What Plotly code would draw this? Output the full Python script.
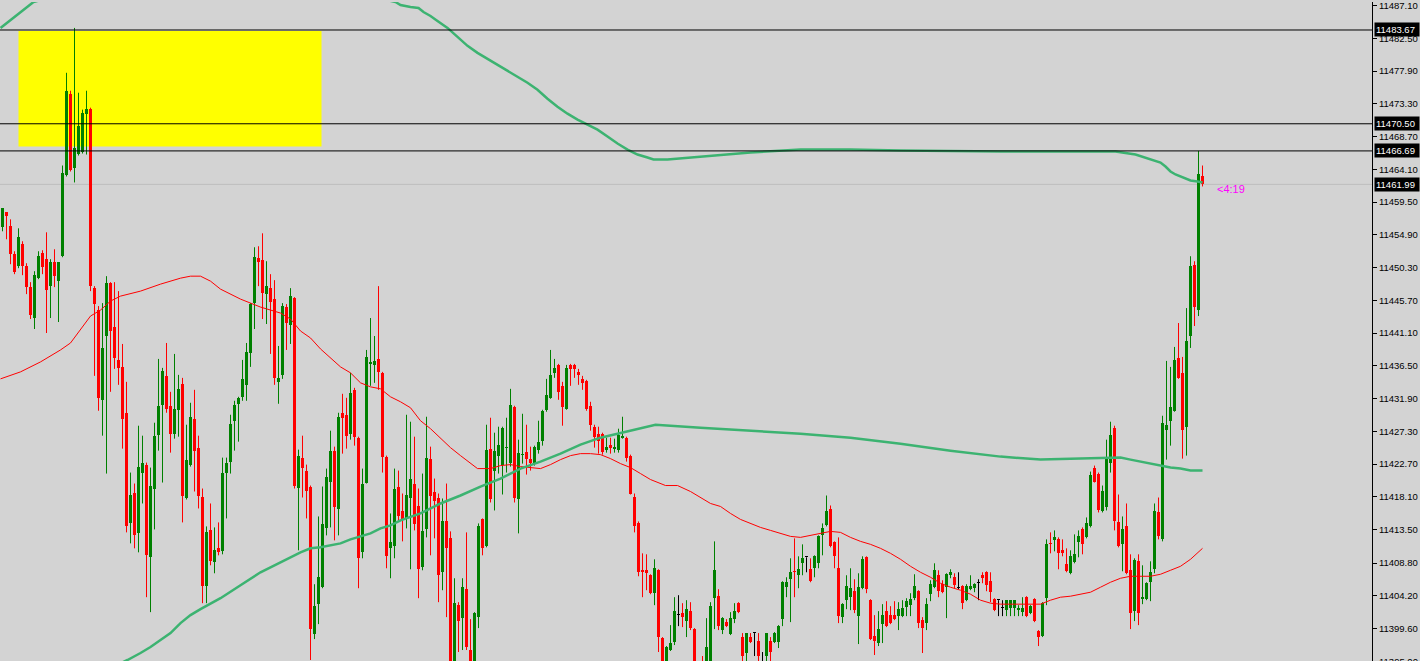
import plotly.graph_objects as go

# ---------------- data ----------------
open_ = [
11455.96, 11458.06, 11456.10, 11452.18, 11450.50, 11453.58, 11450.50, 11447.56, 11443.22, 11448.82,
11452.32, 11451.48, 11447.70, 11451.06, 11448.40, 11451.90, 11463.24, 11474.72, 11464.22, 11466.32,
11466.60, 11471.92, 11472.62, 11447.42, 11444.34, 11431.74, 11440.70, 11448.12, 11441.96, 11437.34,
11436.36, 11429.92, 11414.38, 11418.72, 11412.98, 11421.52, 11422.64, 11409.62, 11419.28, 11426.84,
11431.04, 11435.10, 11430.90, 11426.98, 11430.34, 11433.98, 11418.02, 11422.64, 11429.08, 11425.02,
11418.16, 11405.56, 11413.40, 11408.92, 11410.88, 11410.46, 11421.52, 11423.06, 11428.80, 11431.18,
11432.16, 11433.84, 11438.32, 11445.32, 11451.62, 11451.34, 11446.58, 11447.42, 11445.88, 11434.26,
11435.24, 11444.76, 11442.24, 11446.02, 11419.42, 11423.62, 11421.80, 11419.56, 11398.84, 11403.04,
11405.42, 11413.68, 11420.26, 11424.60, 11416.34, 11429.92, 11429.64, 11426.98, 11433.14, 11426.42,
11410.32, 11420.12, 11436.78, 11436.64, 11437.48, 11435.52, 11423.76, 11410.88, 11411.16, 11419.56,
11416.06, 11415.08, 11418.02, 11419.98, 11416.76, 11408.22, 11413.54, 11423.48, 11418.86, 11418.02,
11407.52, 11414.66, 11412.28, 11392.40, 11402.90, 11401.08, 11405.14, 11396.60, 11393.10, 11401.22,
11414.94, 11411.16, 11424.88, 11421.80, 11423.90, 11422.64, 11425.02, 11422.92, 11430.76, 11417.74,
11424.04, 11424.46, 11423.48, 11422.78, 11424.74, 11426.00, 11430.34, 11432.02, 11435.52, 11436.64,
11433.70, 11430.48, 11436.64, 11436.64, 11435.66, 11434.68, 11434.40, 11430.90, 11427.96, 11426.98,
11426.98, 11424.74, 11425.44, 11424.88, 11424.74, 11426.42, 11426.42, 11423.90, 11418.16, 11414.38,
11407.80, 11407.80, 11407.10, 11404.58, 11407.80, 11398.28, 11393.52, 11396.60, 11397.72, 11401.50,
11401.78, 11400.66, 11402.06, 11399.54, 11394.08, 11394.08, 11394.08, 11394.50, 11403.88, 11404.16,
11399.40, 11400.52, 11398.84, 11400.94, 11403.18, 11398.42, 11396.18, 11398.42, 11398.98, 11397.86,
11394.50, 11395.76, 11397.86, 11397.72, 11397.72, 11400.94, 11405.42, 11406.54, 11407.66, 11407.10,
11408.78, 11409.62, 11407.94, 11408.08, 11408.78, 11412.70, 11414.10, 11416.34, 11411.72, 11408.08,
11401.22, 11403.60, 11404.02, 11404.86, 11401.36, 11405.28, 11409.62, 11403.60, 11398.56, 11397.58,
11400.24, 11402.06, 11401.50, 11401.50, 11401.36, 11401.36, 11402.62, 11402.90, 11403.88, 11404.86,
11400.80, 11400.38, 11404.44, 11405.42, 11407.10, 11405.84, 11405.42, 11407.10, 11406.82, 11405.28,
11405.56, 11403.60, 11405.14, 11405.28, 11405.98, 11407.10, 11407.52, 11406.26, 11403.74, 11403.60,
11402.48, 11402.20, 11402.48, 11402.48, 11402.20, 11401.92, 11404.02, 11401.78, 11403.74, 11399.26,
11398.56, 11403.88, 11411.58, 11412.00, 11412.14, 11410.60, 11408.64, 11407.38, 11408.92, 11411.72,
11413.54, 11412.42, 11413.96, 11422.22, 11421.38, 11416.06, 11416.62, 11422.92, 11427.82, 11414.52,
11411.44, 11413.96, 11407.80, 11402.06, 11409.06, 11403.74, 11403.74, 11406.12, 11407.94, 11415.92,
11412.14, 11427.54, 11428.80, 11430.20, 11437.62, 11435.52, 11427.96, 11440.70, 11450.64, 11444.34,
11463.10]

high = [
11458.62, 11458.06, 11457.08, 11452.60, 11455.82, 11454.00, 11450.92, 11448.26, 11449.80, 11452.60,
11452.74, 11455.26, 11451.48, 11452.88, 11451.06, 11464.64, 11477.66, 11475.14, 11483.96, 11474.86,
11472.48, 11475.14, 11472.76, 11447.70, 11444.90, 11445.32, 11449.10, 11448.26, 11448.26, 11447.00,
11439.58, 11434.26, 11421.52, 11419.98, 11428.10, 11426.70, 11422.92, 11422.22, 11428.52, 11437.48,
11436.22, 11439.72, 11432.86, 11438.18, 11435.24, 11434.82, 11428.24, 11431.32, 11433.14, 11426.70,
11419.28, 11413.96, 11417.18, 11413.82, 11414.52, 11423.62, 11423.62, 11429.64, 11431.60, 11432.16,
11437.34, 11439.72, 11445.32, 11453.16, 11453.30, 11455.12, 11451.20, 11449.38, 11448.54, 11439.30,
11445.32, 11445.18, 11447.42, 11446.16, 11424.74, 11426.70, 11422.64, 11419.70, 11405.84, 11415.36,
11419.56, 11422.08, 11427.40, 11425.16, 11429.92, 11432.58, 11432.02, 11435.52, 11433.42, 11426.56,
11422.08, 11438.74, 11443.22, 11440.70, 11447.70, 11435.66, 11423.90, 11415.78, 11422.08, 11421.80,
11418.58, 11429.64, 11428.66, 11426.56, 11419.28, 11421.38, 11429.36, 11425.16, 11420.68, 11418.58,
11417.88, 11419.98, 11413.26, 11406.68, 11403.32, 11406.68, 11413.12, 11400.94, 11401.92, 11414.38,
11415.08, 11428.24, 11429.22, 11427.12, 11427.96, 11427.96, 11429.22, 11433.28, 11430.90, 11426.14,
11429.78, 11428.24, 11425.16, 11425.30, 11428.80, 11430.34, 11434.68, 11438.74, 11437.48, 11436.78,
11434.26, 11436.64, 11436.78, 11436.78, 11436.08, 11435.10, 11434.54, 11431.46, 11428.24, 11427.96,
11427.12, 11426.42, 11426.42, 11426.28, 11427.68, 11429.36, 11426.56, 11424.04, 11418.58, 11414.66,
11410.18, 11410.04, 11407.24, 11409.34, 11407.94, 11398.42, 11397.16, 11400.10, 11404.02, 11404.30,
11403.18, 11403.60, 11403.32, 11399.68, 11394.64, 11395.76, 11401.08, 11403.32, 11411.86, 11405.14,
11401.22, 11400.94, 11401.92, 11403.18, 11403.32, 11398.98, 11398.98, 11398.98, 11398.98, 11398.98,
11396.32, 11398.98, 11398.42, 11399.12, 11400.10, 11406.26, 11406.82, 11409.48, 11412.28, 11409.76,
11411.44, 11409.62, 11409.48, 11409.90, 11412.70, 11414.38, 11418.30, 11416.90, 11411.86, 11412.42,
11403.18, 11407.10, 11408.08, 11406.54, 11407.38, 11409.76, 11409.76, 11403.74, 11401.50, 11402.06,
11403.04, 11403.46, 11402.76, 11403.46, 11403.32, 11403.60, 11403.88, 11404.58, 11407.24, 11405.00,
11401.22, 11403.88, 11406.40, 11408.78, 11407.80, 11406.40, 11407.38, 11407.94, 11407.38, 11407.52,
11405.70, 11405.84, 11407.10, 11405.98, 11406.54, 11407.52, 11407.66, 11407.52, 11403.88, 11403.60,
11403.60, 11403.60, 11403.60, 11403.60, 11402.90, 11404.02, 11404.16, 11402.90, 11403.88, 11399.40,
11403.32, 11412.14, 11413.12, 11413.40, 11412.42, 11412.14, 11410.88, 11410.60, 11412.84, 11413.40,
11413.82, 11415.22, 11421.66, 11422.50, 11421.52, 11419.70, 11426.14, 11428.66, 11428.10, 11418.44,
11415.36, 11417.18, 11410.04, 11409.48, 11410.04, 11408.50, 11406.12, 11409.06, 11417.18, 11418.02,
11429.50, 11437.20, 11436.36, 11439.16, 11442.52, 11437.76, 11444.62, 11451.90, 11451.20, 11466.69,
11464.64]

low = [
11455.40, 11454.28, 11450.78, 11449.38, 11450.22, 11449.24, 11446.58, 11443.08, 11441.68, 11448.68,
11449.38, 11441.12, 11443.22, 11447.56, 11442.66, 11451.76, 11463.10, 11463.80, 11462.26, 11466.04,
11466.32, 11466.18, 11447.00, 11435.10, 11430.20, 11426.70, 11421.38, 11432.86, 11436.08, 11433.84,
11424.88, 11413.12, 11411.58, 11410.88, 11410.32, 11417.18, 11404.02, 11401.92, 11413.54, 11424.60,
11420.12, 11429.92, 11424.32, 11426.28, 11426.56, 11414.52, 11417.74, 11422.36, 11418.86, 11416.48,
11403.18, 11403.18, 11408.50, 11407.38, 11409.90, 11410.04, 11415.08, 11421.38, 11424.60, 11425.86,
11431.60, 11431.60, 11436.36, 11441.68, 11447.70, 11443.08, 11442.38, 11438.18, 11433.84, 11431.18,
11434.68, 11438.74, 11439.58, 11419.28, 11410.60, 11418.02, 11415.08, 11395.20, 11398.14, 11400.24,
11405.28, 11412.70, 11413.82, 11412.00, 11412.70, 11424.18, 11424.88, 11426.14, 11425.30, 11405.28,
11409.48, 11419.98, 11433.70, 11434.12, 11433.14, 11421.52, 11408.08, 11406.68, 11409.48, 11414.80,
11411.86, 11413.68, 11407.94, 11413.40, 11403.88, 11407.80, 11412.42, 11409.90, 11412.28, 11403.32,
11405.00, 11401.22, 11391.00, 11391.00, 11396.32, 11396.60, 11396.60, 11391.70, 11391.00, 11399.68,
11409.90, 11411.02, 11417.32, 11416.20, 11421.38, 11418.44, 11421.52, 11422.36, 11417.32, 11412.98,
11422.78, 11421.24, 11421.80, 11422.50, 11424.18, 11425.30, 11430.06, 11431.88, 11434.82, 11431.74,
11428.10, 11430.34, 11433.70, 11434.82, 11433.84, 11433.14, 11430.20, 11427.40, 11425.02, 11424.18,
11424.04, 11424.32, 11424.18, 11424.32, 11424.32, 11426.28, 11423.06, 11418.44, 11413.12, 11406.96,
11404.02, 11405.00, 11404.44, 11402.90, 11396.32, 11391.70, 11391.70, 11396.46, 11397.30, 11399.96,
11399.82, 11398.42, 11399.40, 11391.70, 11391.70, 11391.70, 11391.70, 11392.40, 11399.54, 11399.40,
11398.84, 11399.82, 11398.70, 11400.38, 11401.78, 11393.80, 11393.80, 11397.58, 11395.76, 11393.80,
11393.10, 11393.80, 11393.80, 11397.58, 11396.88, 11399.96, 11404.02, 11400.52, 11404.02, 11405.28,
11407.10, 11407.52, 11406.12, 11406.82, 11408.08, 11409.90, 11413.96, 11411.02, 11408.08, 11400.38,
11400.38, 11402.34, 11402.20, 11401.78, 11397.44, 11405.14, 11404.58, 11398.00, 11395.90, 11397.16,
11397.58, 11399.82, 11400.24, 11400.80, 11399.40, 11401.22, 11401.36, 11401.36, 11403.60, 11399.68,
11396.18, 11399.40, 11403.46, 11405.28, 11404.02, 11404.58, 11401.08, 11406.68, 11405.28, 11405.14,
11402.34, 11403.46, 11405.00, 11404.72, 11403.60, 11405.98, 11404.86, 11403.32, 11402.06, 11401.36,
11401.36, 11401.36, 11401.36, 11401.36, 11401.36, 11401.36, 11401.22, 11401.64, 11400.52, 11397.16,
11398.42, 11402.90, 11410.18, 11410.46, 11407.94, 11409.76, 11407.52, 11407.24, 11408.78, 11409.62,
11410.04, 11412.28, 11413.82, 11420.12, 11415.92, 11415.92, 11416.20, 11421.52, 11413.40, 11411.02,
11407.66, 11407.24, 11399.54, 11400.66, 11400.10, 11403.04, 11403.60, 11403.46, 11407.38, 11412.14,
11411.86, 11423.34, 11425.30, 11430.06, 11434.68, 11423.48, 11423.90, 11439.02, 11442.10, 11443.50,
11461.70]

close = [
11458.62, 11457.50, 11452.18, 11449.66, 11454.56, 11450.50, 11447.56, 11443.64, 11449.24, 11451.90,
11450.36, 11447.14, 11451.06, 11449.10, 11451.06, 11463.52, 11475.14, 11463.94, 11467.16, 11470.24,
11472.06, 11472.62, 11447.70, 11445.18, 11432.02, 11439.02, 11448.12, 11441.40, 11437.62, 11436.22,
11429.08, 11413.96, 11418.44, 11412.70, 11422.36, 11422.92, 11409.90, 11419.70, 11426.70, 11430.90,
11435.80, 11430.48, 11426.98, 11430.48, 11433.28, 11418.30, 11423.34, 11429.36, 11424.60, 11418.30,
11405.56, 11413.12, 11409.06, 11410.60, 11410.32, 11421.52, 11422.92, 11428.38, 11431.04, 11432.02,
11434.68, 11438.46, 11445.18, 11451.76, 11451.06, 11446.72, 11447.70, 11445.46, 11434.82, 11434.82,
11444.90, 11442.52, 11446.30, 11419.70, 11423.90, 11422.22, 11419.00, 11399.54, 11402.76, 11406.82,
11414.24, 11420.96, 11424.60, 11416.62, 11429.36, 11429.22, 11426.70, 11432.72, 11426.56, 11409.48,
11419.98, 11437.76, 11437.06, 11437.20, 11435.66, 11423.76, 11409.76, 11411.72, 11419.28, 11415.36,
11414.80, 11418.44, 11420.68, 11414.24, 11407.94, 11413.26, 11423.62, 11418.30, 11417.46, 11407.10,
11414.66, 11410.88, 11393.10, 11403.18, 11400.66, 11405.42, 11397.02, 11393.52, 11401.78, 11413.96,
11410.88, 11424.74, 11417.74, 11424.60, 11425.44, 11427.82, 11425.16, 11431.04, 11418.02, 11424.32,
11424.18, 11423.48, 11422.92, 11425.16, 11425.86, 11430.20, 11432.44, 11435.24, 11436.22, 11432.86,
11430.76, 11436.22, 11436.08, 11436.08, 11435.24, 11434.12, 11430.48, 11428.24, 11426.56, 11426.00,
11424.46, 11425.16, 11425.02, 11425.16, 11426.84, 11426.70, 11423.62, 11418.58, 11413.96, 11407.52,
11407.52, 11407.38, 11404.58, 11408.08, 11398.42, 11393.52, 11397.02, 11397.58, 11402.06, 11401.50,
11401.22, 11402.34, 11399.68, 11393.80, 11392.96, 11392.68, 11397.02, 11402.76, 11407.80, 11399.96,
11401.08, 11399.96, 11401.08, 11402.06, 11401.92, 11395.76, 11398.98, 11397.72, 11398.98, 11395.76,
11394.50, 11398.98, 11396.32, 11398.98, 11399.96, 11406.12, 11406.12, 11407.52, 11407.52, 11407.94,
11409.48, 11409.62, 11406.26, 11409.76, 11412.56, 11413.68, 11416.06, 11411.16, 11409.76, 11401.36,
11403.04, 11405.56, 11405.28, 11402.20, 11405.42, 11409.34, 11405.14, 11398.14, 11397.86, 11399.54,
11401.50, 11399.96, 11400.38, 11400.94, 11402.34, 11402.48, 11403.46, 11403.74, 11405.56, 11400.38,
11399.68, 11403.04, 11405.84, 11407.80, 11404.86, 11404.72, 11407.24, 11407.52, 11405.70, 11405.28,
11403.18, 11405.56, 11405.56, 11405.84, 11405.98, 11406.68, 11405.70, 11404.72, 11402.20, 11403.60,
11402.48, 11403.60, 11403.60, 11403.60, 11402.48, 11402.48, 11401.36, 11402.76, 11400.66, 11398.42,
11403.18, 11411.44, 11411.44, 11412.42, 11410.18, 11410.18, 11407.66, 11409.76, 11410.04, 11412.56,
11411.44, 11414.38, 11421.24, 11420.26, 11416.20, 11419.00, 11423.62, 11426.84, 11414.66, 11411.16,
11413.54, 11407.38, 11401.78, 11409.20, 11401.78, 11404.02, 11405.98, 11407.52, 11416.06, 11412.56,
11428.52, 11428.24, 11430.76, 11437.34, 11434.82, 11427.54, 11440.00, 11450.50, 11444.76, 11463.38,
11461.99]

bars = list(range(len(close)))

# moving averages (bar position, value)
ma_red_x = [-0.5, 4.5, 9.5, 14.5, 17, 19.5, 22, 24.5, 27, 29.5, 34.5, 39.5, 44.5, 47, 49.5, 52, 54.5,
            59.5, 64.5, 69.5, 72, 74.5, 77, 79.5, 82, 84.5, 87, 89.5, 92, 94.5, 97, 99.5, 102, 104.5,
            107, 109.5, 112, 114.5, 117, 118.75, 122, 124.5, 127, 129.5, 134.5, 137, 139.5, 142, 144.5,
            147, 149.5, 152, 154.5, 157, 159.5, 162, 165.75, 168.75, 172, 174.5, 177, 179.5, 182, 184.5,
            187, 189.5, 192, 194.5, 197, 199.5, 202, 204.5, 207, 209.5, 212, 214.5, 217, 219.5, 222,
            224.5, 227, 229.5, 232, 234.5, 237, 239.5, 242, 244.5, 247, 249.5, 259.5, 262, 264.5, 267,
            269.5, 272, 274.5, 277, 279.5, 282, 287, 289.5, 292, 294.5, 297, 298.75, 300]
ma_red_y = [11434.68, 11435.66, 11437.06, 11438.74, 11439.72, 11441.68, 11443.50, 11444.34, 11445.60,
            11446.30, 11447.00, 11447.98, 11448.82, 11449.10, 11449.10, 11448.40, 11447.28, 11445.88,
            11444.76, 11443.92, 11443.08, 11441.40, 11440.42, 11438.88, 11437.62, 11436.36, 11435.52,
            11434.12, 11433.56, 11433.28, 11432.16, 11431.46, 11430.62, 11428.80, 11427.68, 11426.28,
            11425.02, 11423.90, 11422.78, 11422.08, 11422.08, 11422.50, 11422.64, 11422.36, 11422.08,
            11422.64, 11423.34, 11423.90, 11424.18, 11424.18, 11424.04, 11423.48, 11422.78, 11422.22,
            11421.38, 11420.54, 11419.70, 11419.70, 11418.86, 11418.02, 11417.18, 11416.76, 11415.78,
            11414.94, 11414.38, 11413.82, 11413.40, 11412.98, 11412.56, 11412.42, 11412.70, 11412.98,
            11413.26, 11413.12, 11412.42, 11411.86, 11411.44, 11410.88, 11410.18, 11409.34, 11408.36,
            11407.52, 11406.82, 11405.98, 11405.42, 11405.00, 11404.44, 11403.60, 11403.18, 11403.04,
            11403.04, 11403.60, 11404.02, 11404.16, 11404.44, 11404.72, 11405.42, 11406.12, 11406.68,
            11406.96, 11406.96, 11407.24, 11407.80, 11408.36, 11409.34, 11410.18, 11410.88]

ma_green_hi_x = [-0.5, 7.75, 24.5, 49.5, 74.5, 89.5, 98.25, 99.5, 102, 104, 105.25, 107, 108.75, 111.25,
                 113.75, 116.25, 118.75, 121.25, 123.75, 126.25, 128.75, 131.25, 133.75, 136.25, 138.75,
                 141.25, 143.75, 146.25, 148.75, 151.25, 153.75, 156.25, 158.75, 161.25, 162.75, 166.25,
                 174.5, 187, 199.5, 212, 224.5, 249.5, 274.5, 278.25, 283.25, 287, 289.5, 290.75, 292,
                 293.25, 294.5, 295.75, 297, 298.75, 300]
ma_green_hi_y = [11483.96, 11487.60, 11490.12, 11491.52, 11490.40, 11488.72, 11487.60, 11487.18, 11486.90,
                 11486.76, 11486.20, 11485.64, 11484.94, 11483.96, 11482.70, 11481.44, 11480.46, 11479.62,
                 11478.78, 11477.94, 11477.10, 11476.26, 11475.28, 11474.02, 11472.90, 11471.92, 11471.08,
                 11470.38, 11469.68, 11468.70, 11467.72, 11466.88, 11466.18, 11465.76, 11465.48, 11465.48,
                 11465.90, 11466.46, 11466.88, 11466.88, 11466.74, 11466.60, 11466.60, 11466.60, 11466.18,
                 11465.48, 11465.06, 11464.50, 11463.80, 11463.38, 11463.10, 11462.82, 11462.54, 11462.40,
                 11462.26]

ma_green_lo_x = [27, 31.25, 34.5, 37, 39.5, 42, 44.5, 47, 49.5, 54.5, 59.5, 64.5, 69.5, 74.5, 77, 79.5,
                 84.5, 87, 89.5, 92, 94.5, 97, 99.5, 104.5, 109.5, 114.5, 119.5, 124.5, 129.5, 134.5,
                 139.5, 144.5, 149.5, 154.5, 159.5, 163.25, 174.5, 187, 199.5, 212, 224.5, 237, 249.5,
                 259.5, 269.5, 277, 279.5, 282, 284.5, 287, 289.5, 292, 294.5, 297, 300]
ma_green_lo_y = [11394.08, 11395.20, 11396.18, 11397.02, 11398.00, 11398.98, 11400.38, 11401.50, 11402.34,
                 11403.88, 11405.70, 11407.52, 11408.92, 11410.32, 11410.88, 11411.02, 11411.58, 11412.14,
                 11412.56, 11412.98, 11413.68, 11414.10, 11414.80, 11415.78, 11417.18, 11418.30, 11419.56,
                 11420.68, 11422.08, 11423.06, 11424.18, 11425.44, 11426.42, 11427.12, 11427.82, 11428.24,
                 11427.82, 11427.40, 11426.98, 11426.42, 11425.58, 11424.60, 11423.76, 11423.34, 11423.48,
                 11423.62, 11423.62, 11423.34, 11423.06, 11422.78, 11422.50, 11422.22, 11422.08, 11421.80,
                 11421.80]

zone_x = [4, 79.75]
zone_y = [11467.30, 11483.54]
level_lines = [11483.67, 11470.50, 11466.69]
bid_price = 11461.99
tick_vals = [11487.10, 11482.50, 11477.90, 11473.30, 11468.70, 11464.10, 11459.50, 11454.90,
             11450.30, 11445.70, 11441.10, 11436.50, 11431.90, 11427.30, 11422.70, 11418.10,
             11413.50, 11408.80, 11404.20, 11399.60, 11395.00]
countdown_text = "<4:19"
countdown_pos = (303.2, 11461.28)

# ---------------- styling ----------------
BG = "#d3d3d3"
UP = "#008000"
DN = "#ff0000"
DOJI = "#000000"
MA_GREEN = "#3cb371"
FONT = "Liberation Sans"
Y_RANGE = [11395.06, 11487.60]

fig = go.Figure()

groups = {"up": ([], UP), "down": ([], DN), "doji": ([], DOJI)}
for i in bars:
    if close[i] > open_[i]:
        groups["up"][0].append(i)
    elif close[i] < open_[i]:
        groups["down"][0].append(i)
    else:
        groups["doji"][0].append(i)

min_body = 0.14
for name, (ids, col) in groups.items():
    wx, wy = [], []
    for i in ids:
        wx += [i, i, None]
        wy += [low[i], high[i], None]
    fig.add_trace(go.Scatter(x=wx, y=wy, mode="lines", line=dict(color=col, width=1),
                             hoverinfo="skip", showlegend=False))
for name, (ids, col) in groups.items():
    fig.add_trace(go.Bar(
        x=ids,
        base=[min(open_[i], close[i]) for i in ids],
        y=[max(abs(close[i] - open_[i]), min_body) for i in ids],
        width=0.75, marker=dict(color=col, line=dict(width=0)),
        hoverinfo="skip", showlegend=False))

fig.add_trace(go.Scatter(x=ma_red_x, y=ma_red_y, mode="lines",
                         line=dict(color=DN, width=1), hoverinfo="skip", showlegend=False))
fig.add_trace(go.Scatter(x=ma_green_hi_x, y=ma_green_hi_y, mode="lines",
                         line=dict(color=MA_GREEN, width=2.5), hoverinfo="skip", showlegend=False))
fig.add_trace(go.Scatter(x=ma_green_lo_x, y=ma_green_lo_y, mode="lines",
                         line=dict(color=MA_GREEN, width=2.5), hoverinfo="skip", showlegend=False))

shapes = [
    dict(type="rect", xref="x", yref="y", x0=zone_x[0], x1=zone_x[1], y0=zone_y[0], y1=zone_y[1],
         fillcolor="#ffff00", line=dict(width=0), layer="below"),
    dict(type="line", xref="paper", yref="y", x0=0, x1=1, y0=bid_price, y1=bid_price,
         line=dict(color="#bdbdbd", width=1), layer="below"),
]
for lv in level_lines:
    shapes.append(dict(type="line", xref="paper", yref="y", x0=0, x1=1, y0=lv, y1=lv,
                       line=dict(color="#000000", width=1), layer="above"))

annotations = []
# bottom tick label that sits just past the plotted range (only its top half shows)
span = Y_RANGE[1] - Y_RANGE[0]
for tv in tick_vals:
    if tv < Y_RANGE[0]:
        annotations.append(dict(xref="paper", yref="paper", x=1, y=(tv - Y_RANGE[0]) / span,
                                xanchor="left", yanchor="middle",
                                xshift=5, text=f"{tv:.2f}", showarrow=False,
                                font=dict(family=FONT, size=9.5, color="#000000")))
for lv in level_lines + [bid_price]:
    annotations.append(dict(xref="paper", yref="y", x=1, y=lv, xanchor="left", yanchor="middle",
                            xshift=2, text=f"{lv:.2f}", showarrow=False, align="left",
                            font=dict(family=FONT, size=9.5, color="#ffffff"),
                            bgcolor="#000000", borderpad=1, width=42, height=11))
annotations.append(dict(xref="x", yref="y", x=countdown_pos[0], y=countdown_pos[1], xanchor="left",
                        yanchor="middle", text=countdown_text.replace("<", "&lt;"), showarrow=False,
                        font=dict(family=FONT, size=11, color="#ff00ff")))

fig.update_layout(
    width=1420, height=661,
    margin=dict(l=0, r=48, t=0, b=0),
    paper_bgcolor=BG, plot_bgcolor=BG,
    barmode="overlay", bargap=0,
    showlegend=False,
    shapes=shapes, annotations=annotations,
    font=dict(family=FONT, size=9.5, color="#000000"),
    xaxis=dict(range=[-0.625, 342.375], showgrid=False, zeroline=False, showticklabels=False,
               showline=False, ticks="", fixedrange=True),
    yaxis=dict(range=Y_RANGE, side="right", showgrid=False, zeroline=False,
               showline=True, linecolor="#000000", linewidth=1,
               ticks="outside", ticklen=4, tickcolor="#000000", tickwidth=1,
               tickvals=tick_vals, ticktext=[f"{v:.2f}" for v in tick_vals],
               ticklabeloverflow="allow",
               tickfont=dict(family=FONT, size=9.5, color="#000000"), fixedrange=True),
)

fig.write_html("out.html", config={"displayModeBar": False, "staticPlot": True},
               post_script="document.body.style.margin='0';document.body.style.overflow='hidden';")
